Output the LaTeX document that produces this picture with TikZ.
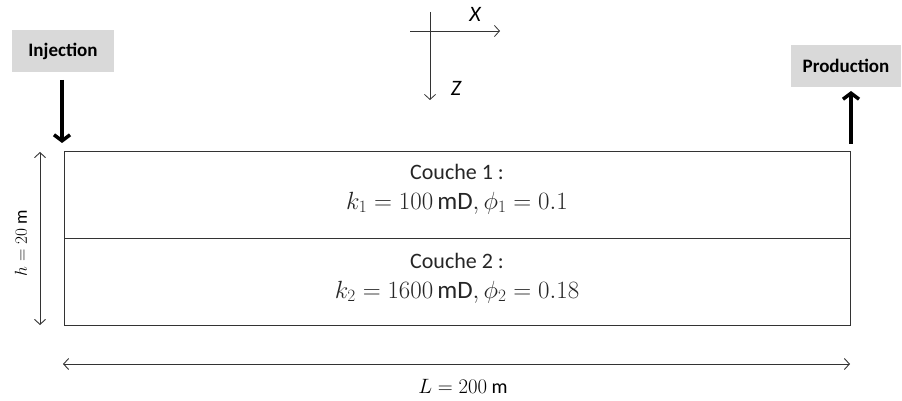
\documentclass[tikz,border=0pt]{standalone}
\usepackage{fontspec}
\setmainfont{Carlito}
\usetikzlibrary{arrows.meta}
\begin{document}
\begin{tikzpicture}[x=1pt,y=-1pt,
  thinarrow/.style={draw=black!80, line width=0.9pt, {Straight Barb[length=5pt,width=11pt]}-{Straight Barb[length=5pt,width=11pt]}},
  axisarrow/.style={draw=black!80, line width=0.8pt, -{Straight Barb[length=5pt,width=11pt]}},
  bigarrow/.style={draw=black, line width=3.5pt, -{Straight Barb[length=6pt,width=16pt]}},
  labelbox/.style={fill=black!15, font=\bfseries\fontsize{19}{22}\selectfont, inner sep=0pt, minimum height=42pt},
  layertext/.style={align=center, font=\fontsize{22}{30}\selectfont, text=black!85},
  mathline/.style={font=\fontsize{25}{30}\selectfont, text=black!85}
]
\useasboundingbox (0,0) rectangle (902,401);
% reservoir
\node[draw=black!80, line width=0.9pt, minimum width=786pt, minimum height=87pt, anchor=north west, inner sep=0pt] (top) at (64,151) {};
\node[draw=black!80, line width=0.9pt, minimum width=786pt, minimum height=87pt, anchor=north west, inner sep=0pt] (bot) at (64,238) {};
\node[layertext] (c1) at (457,172) {Couche 1 :};
\node[mathline] (k1) at (457,203) {$k_1 = 100\,\mathrm{mD}, \phi_1 = 0.1$};
\node[layertext] (c2) at (457,261) {Couche 2 :};
\node[mathline] (k2) at (457,292) {$k_2 = 1600\,\mathrm{mD}, \phi_2 = 0.18$};
% injection / production
\node[labelbox, minimum width=102pt] (inj) at (63,51) {Injection};
\node[labelbox, minimum width=110pt] (prod) at (846,66) {Production};
\coordinate (injtop) at (62,80);
\coordinate (injbot) at (62,143);
\draw[bigarrow] (injtop) -- (injbot);
\coordinate (prodbot) at (851,144);
\coordinate (prodtop) at (851,91);
\draw[bigarrow] (prodbot) -- (prodtop);
% axes
\coordinate (xa) at (410,31);
\coordinate (xb) at (500,31);
\coordinate (za) at (430,12);
\coordinate (zb) at (430,100);
\draw[axisarrow] (xa) -- (xb);
\draw[axisarrow] (za) -- (zb);
\node[font=\itshape\fontsize{22}{24}\selectfont] (X) at (475,14) {X};
\node[font=\itshape\fontsize{22}{24}\selectfont] (Z) at (456,88) {Z};
% dimensions
\coordinate (ha) at (40,152);
\coordinate (hb) at (40,325);
\draw[thinarrow] (ha) -- (hb);
\node[rotate=90, font=\fontsize{18}{20}\selectfont] (h) at (21,243) {$h = 20$ m};
\coordinate (la) at (63,364);
\coordinate (lb) at (850,364);
\draw[thinarrow] (la) -- (lb);
\node[font=\fontsize{20}{22}\selectfont] (L) at (463,386) {$L = 200$ m};
\end{tikzpicture}
\end{document}
